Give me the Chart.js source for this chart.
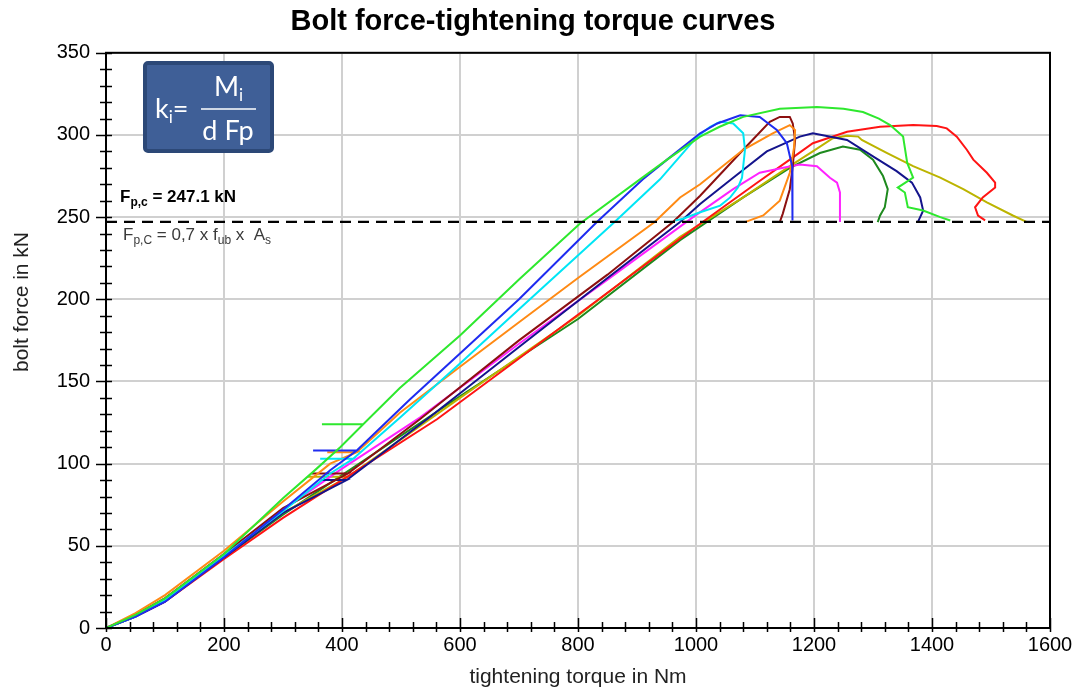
<!DOCTYPE html>
<html>
<head>
<meta charset="utf-8">
<script src="https://cdn.jsdelivr.net/npm/chart.js@4.4.1/dist/chart.umd.min.js"></script>
<style>
  html, body { margin: 0; padding: 0; background: #fff; }
  #wrap { width: 1085px; height: 692px; }
</style>
</head>
<body>
<div id="wrap"><canvas id="boltChart" width="1085" height="692"></canvas></div>
<script>
// torque in Nm, bolt force in kN
var limeCurve = [[0,0],[50,8],[100,18],[200,45],[300,79],[351,95],[397,110],[436,124],[366,124],[436,124],[498,146],[600,178],[700,212],[803,246],[905,273],[951,285],[1007,299],[1040,305],[1080,311],[1142,316],[1205,317],[1250,316],[1283,314],[1310,310],[1329,306],[1351,299],[1358,283],[1368,274],[1342,268],[1354,265],[1359,256],[1385,254],[1414,250],[1431,248]];
var blueCurve = [[0,0],[50,7],[100,16],[200,43],[300,72],[380,96],[425,108],[351,108],[425,108],[515,139],[600,167],[700,200],[832,247],[910,273],[951,285],[1007,301],[1036,307],[1075,312],[1108,311],[1137,303],[1154,295],[1163,281],[1163,260],[1164,248]];
var cyanCurve = [[0,0],[50,7],[100,17],[200,44],[300,71],[380,94],[419,103],[363,103],[419,103],[498,128],[600,161],[700,194],[862,247],[939,273],[1002,299],[1024,305],[1041,308],[1063,307],[1080,301],[1083,291],[1078,274],[1071,268],[1058,262],[1041,257],[1007,253],[978,249],[965,248]];
var orangeCurve = [[0,0],[50,9],[100,20],[200,47],[300,77],[380,100],[425,107],[375,107],[425,107],[498,131],[600,159],[700,186],[800,213],[930,247],[973,262],[1007,270],[1080,291],[1130,301],[1159,306],[1168,303],[1166,292],[1159,277],[1142,260],[1114,251],[1083,247]];
var maroonCurve = [[0,0],[50,8],[100,18],[200,45],[300,73],[410,94],[349,94],[410,94],[532,127],[700,175],[850,215],[961,247],[1007,263],[1080,291],[1125,308],[1142,311],[1159,311],[1164,307],[1168,297],[1164,281],[1159,267],[1147,252],[1142,247]];
var navyCurve = [[0,0],[50,7],[100,16],[200,43],[300,70],[408,90],[365,90],[408,90],[544,127],[700,171],[850,213],[973,247],[1007,258],[1063,274],[1120,290],[1176,299],[1198,301],[1256,297],[1300,287],[1340,278],[1366,271],[1380,262],[1385,254],[1376,247]];
var magentaCurve = [[0,0],[50,8],[100,18],[200,45],[300,72],[400,97],[532,128],[700,173],[850,212],[995,250],[1063,267],[1108,277],[1148,280],[1176,282],[1205,281],[1227,274],[1239,271],[1244,265],[1244,256],[1244,247]];
var redCurve = [[0,0],[50,7],[100,16],[200,42],[300,67],[400,90],[561,127],[700,164],[850,204],[1007,246],[1100,270],[1159,285],[1198,295],[1256,302],[1312,305],[1368,306],[1408,305.5],[1425,304],[1442,299],[1459,291],[1470,285],[1493,277],[1507,271],[1507,268],[1486,262],[1473,256],[1478,251],[1490,248]];
var oliveCurve = [[0,0],[50,8],[100,18],[200,44],[300,70],[410,92],[342,92],[410,92],[600,140],[800,190],[973,238],[1080,262],[1159,281],[1198,290],[1232,298],[1256,299.5],[1275,299],[1281,297],[1324,289],[1368,281],[1414,274],[1453,267],[1493,259],[1537,251],[1561,247]];
var darkGreenCurve = [[0,0],[50,7],[100,17],[200,43],[300,69],[400,93],[600,141],[800,188],[973,236],[1080,262],[1159,280],[1210,289],[1249,293],[1278,291],[1300,285],[1317,275],[1325,267],[1320,256],[1312,251],[1308,247]];

var fpcValue = 247.1;          // kN, preload limit
var torqueRange = [0, 1600];
var forceRange = [0, 350];

var curves = [
    { label: 'bolt 1', pts: limeCurve, color: '#2ee82e' },
    { label: 'bolt 2', pts: blueCurve, color: '#1f2cf0' },
    { label: 'bolt 3', pts: cyanCurve, color: '#00e6f5' },
    { label: 'bolt 4', pts: orangeCurve, color: '#ff8a14' },
    { label: 'bolt 5', pts: maroonCurve, color: '#8c1010' },
    { label: 'bolt 6', pts: navyCurve, color: '#14148c' },
    { label: 'bolt 7', pts: magentaCurve, color: '#ff22ff' },
    { label: 'bolt 8', pts: redCurve, color: '#ff1414' },
    { label: 'bolt 9', pts: oliveCurve, color: '#bcb400' },
    { label: 'bolt 10', pts: darkGreenCurve, color: '#1e8a1e' }
];

function toXY(pts) {
    return pts.map(function (p) { return { x: p[0], y: p[1] }; });
}

var datasets = [{
    label: 'Fp,C',
    data: toXY([[torqueRange[0], fpcValue], [torqueRange[1], fpcValue]]),
    borderColor: '#000',
    borderWidth: 2.2,
    borderDash: [11, 7],
    pointRadius: 0,
    showLine: true
}];
curves.forEach(function (c) {
    datasets.push({
        label: c.label,
        data: toXY(c.pts),
        borderColor: c.color,
        borderWidth: 2,
        pointRadius: 0,
        showLine: true,
        tension: 0
    });
});

var FONT = "'Liberation Sans', Arial, sans-serif";

function drawRuns(ctx, x, y, runs) {
    runs.forEach(function (r) {
        ctx.font = r.font;
        ctx.fillText(r.t, x, y + (r.dy || 0));
        x += ctx.measureText(r.t).width;
    });
}

// minor ticks, frame, formula box and the Fp,c notes
var decorPlugin = {
    id: 'decor',
    afterDraw: function (chart) {
        var ctx = chart.ctx;
        var a = chart.chartArea;
        var xs = chart.scales.x, ys = chart.scales.y;
        ctx.save();

        // frame
        ctx.strokeStyle = '#000';
        ctx.lineWidth = 2;
        ctx.strokeRect(a.left, a.top, a.right - a.left, a.bottom - a.top);

        // ticks
        ctx.lineWidth = 1.5;
        ctx.beginPath();
        for (var t = 0; t <= 1600; t += 40) {
            var px = Math.round(xs.getPixelForValue(t)) + 0.5;
            var major = t % 200 === 0;
            ctx.moveTo(px, a.bottom + 4);
            ctx.lineTo(px, a.bottom - (major ? 10 : 6));
        }
        for (var f = 0; f <= 350; f += 10) {
            var py = Math.round(ys.getPixelForValue(f)) + 0.5;
            var maj = f % 50 === 0;
            ctx.moveTo(a.left - (maj ? 10 : 6), py);
            ctx.lineTo(a.left + 6, py);
        }
        ctx.stroke();

        // y axis title
        ctx.save();
        ctx.translate(22, 302);
        ctx.rotate(-Math.PI / 2);
        ctx.fillStyle = '#222';
        ctx.font = '21px ' + FONT;
        ctx.textAlign = 'center';
        ctx.textBaseline = 'middle';
        ctx.fillText('bolt force in kN', 0, 0);
        ctx.restore();

        // Fp,c notes
        var yLine = ys.getPixelForValue(fpcValue);
        ctx.fillStyle = '#000';
        ctx.textBaseline = 'alphabetic';
        ctx.textAlign = 'left';
        drawRuns(ctx, a.left + 14, yLine - 20, [
            { t: 'F', font: 'bold 17px ' + FONT },
            { t: 'p,c', font: 'bold 12px ' + FONT, dy: 4 },
            { t: ' = 247.1 kN', font: 'bold 17px ' + FONT }
        ]);
        ctx.fillStyle = '#3a3a3a';
        drawRuns(ctx, a.left + 17, yLine + 18, [
            { t: 'F', font: '17px ' + FONT },
            { t: 'p,C', font: '12px ' + FONT, dy: 4 },
            { t: ' = 0,7 x f', font: '17px ' + FONT },
            { t: 'ub', font: '12px ' + FONT, dy: 4 },
            { t: ' x  A', font: '17px ' + FONT },
            { t: 's', font: '12px ' + FONT, dy: 4 }
        ]);

        // formula box
        var bx = 143, by = 61, bw = 131, bh = 92;
        ctx.fillStyle = '#3f5f97';
        ctx.strokeStyle = '#2c4877';
        ctx.lineWidth = 4;
        ctx.beginPath();
        ctx.roundRect(bx + 2, by + 2, bw - 4, bh - 4, 3);
        ctx.fill();
        ctx.stroke();
        ctx.fillStyle = '#fff';
        var ff = "Lato, 'Open Sans', sans-serif";
        drawRuns(ctx, 155, 118, [
            { t: 'k', font: '27px ' + ff },
            { t: 'i', font: '17px ' + ff, dy: 5 },
            { t: '=', font: '27px ' + ff }
        ]);
        drawRuns(ctx, 214, 96, [
            { t: 'M', font: '27px ' + ff },
            { t: 'i', font: '17px ' + ff, dy: 5 }
        ]);
        ctx.textAlign = 'center';
        ctx.font = '27px ' + ff;
        ctx.fillText('d Fp', 228, 140);
        ctx.strokeStyle = '#fff';
        ctx.lineWidth = 1.5;
        ctx.beginPath();
        ctx.moveTo(201, 109);
        ctx.lineTo(256, 109);
        ctx.stroke();

        ctx.restore();
    }
};

document.addEventListener('DOMContentLoaded', function () {
    var ctxBolt = document.getElementById('boltChart').getContext('2d');
    new Chart(ctxBolt, {
        type: 'scatter',
        data: { datasets: datasets },
        options: {
            responsive: false,
            animation: false,
            layout: { padding: { top: 0, right: 35, bottom: 0, left: 16 } },
            plugins: {
                legend: { display: false },
                tooltip: { enabled: false },
                title: {
                    display: true,
                    text: 'Bolt force-tightening torque curves',
                    color: '#000',
                    font: { family: FONT, size: 29, weight: 'bold' },
                    padding: { top: 5, bottom: 13 }
                }
            },
            scales: {
                x: {
                    type: 'linear',
                    min: torqueRange[0],
                    max: torqueRange[1],
                    afterFit: function (scale) { scale.height = 64; },
                    ticks: {
                        stepSize: 200,
                        color: '#000',
                        padding: 5,
                        maxRotation: 0,
                        font: { family: FONT, size: 20 },
                        callback: function (value) { return String(value); }
                    },
                    grid: { color: '#d0d0d0', lineWidth: 2, drawTicks: false },
                    border: { color: '#000', width: 2 },
                    title: {
                        display: true,
                        text: 'tightening torque in Nm',
                        color: '#222',
                        font: { family: FONT, size: 21 },
                        padding: { top: 0, bottom: 2 }
                    }
                },
                y: {
                    type: 'linear',
                    min: forceRange[0],
                    max: forceRange[1],
                    afterFit: function (scale) { scale.width = 90; },
                    ticks: {
                        stepSize: 50,
                        color: '#000',
                        padding: 16,
                        font: { family: FONT, size: 20 },
                        callback: function (value) { return String(value); }
                    },
                    grid: { color: '#d0d0d0', lineWidth: 2, drawTicks: false },
                    border: { color: '#000', width: 2 }
                }
            }
        },
        plugins: [decorPlugin]
    });
});
</script>
</body>
</html>
